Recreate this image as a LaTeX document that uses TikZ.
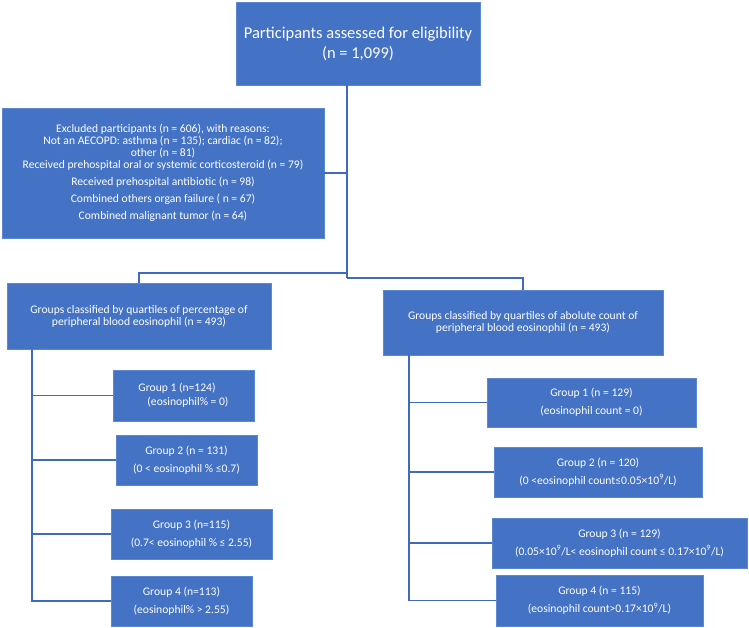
\documentclass[tikz,border=0pt]{standalone}
\usepackage{fontspec}
\setmainfont{Carlito}
\usetikzlibrary{calc}
\definecolor{BoxClr}{rgb}{0.267,0.447,0.769}
\definecolor{EdgeClr}{rgb}{0.36,0.53,0.82}
\definecolor{LineClr}{rgb}{0.25,0.42,0.74}

\begin{document}
\begin{tikzpicture}[x=1pt,y=-1pt,
  box/.style={fill=BoxClr,draw=EdgeClr,line width=0.6pt,text=white,align=center,
    inner sep=0pt,font=\fontsize{11.6}{12}\selectfont},
  grp/.style={box,font=\fontsize{11.6}{18}\selectfont},
  link/.style={draw=LineClr,line width=1.4pt}]
\useasboundingbox (0,0) rectangle (749,628);

% main boxes
\node[box,minimum width=244pt,minimum height=83pt,font=\fontsize{16.5}{20}\selectfont]
  (assess) at (358,43.5) {Participants assessed for eligibility\\(n = 1,099)};
\node[box,minimum width=322pt,minimum height=130pt] (excl) at (163,173)
  {Excluded participants (n = 606), with reasons:\\
   Not an AECOPD: asthma (n = 135); cardiac (n = 82);\\
   other (n = 81)\\
   Received prehospital oral or systemic corticosteroid (n = 79)\\[5pt]
   Received prehospital antibiotic (n = 98)\\[5pt]
   Combined others organ failure ( n = 67)\\[5pt]
   Combined malignant tumor (n = 64)};
\node[box,minimum width=264pt,minimum height=66pt] (pctHead) at (139,316)
  {Groups classified by quartiles of percentage of\\peripheral blood eosinophil (n = 493)};
\node[box,minimum width=280pt,minimum height=65pt] (cntHead) at (523,322.5)
  {Groups classified by quartiles of abolute count of\\peripheral blood eosinophil (n = 493)};

% percentage groups
\node[grp,minimum width=141pt,minimum height=51pt,align=left,font=\fontsize{11.6}{14}\selectfont]
  (pctA) at (183.5,395.5) {Group 1 (n=124)\\\hspace*{9pt}(eosinophil\% = 0)};
\node[grp,minimum width=141pt,minimum height=50pt] (pctB) at (186.5,460)
  {Group 2 (n = 131)\\(0 < eosinophil \% ≤0.7)};
\node[grp,minimum width=161pt,minimum height=50pt] (pctC) at (191.5,534)
  {Group 3 (n=115)\\(0.7< eosinophil \% ≤ 2.55)};
\node[grp,minimum width=141pt,minimum height=50pt] (pctD) at (181.5,601)
  {Group 4 (n=113)\\(eosinophil\% > 2.55)};

% count groups
\node[grp,minimum width=209pt,minimum height=49pt] (cntA) at (591.5,402.5)
  {Group 1 (n = 129)\\(eosinophil count = 0)};
\node[grp,minimum width=208pt,minimum height=50pt] (cntB) at (598,472)
  {Group 2 (n = 120)\\(0 <eosinophil count≤0.05×10\textsuperscript{9}/L)};
\node[grp,minimum width=255pt,minimum height=50pt] (cntC) at (619.5,543)
  {Group 3 (n = 129)\\(0.05×10\textsuperscript{9}/L< eosinophil count ≤ 0.17×10\textsuperscript{9}/L)};
\node[grp,minimum width=207pt,minimum height=51pt] (cntD) at (599.5,600.5)
  {Group 4 (n = 115)\\(eosinophil count>0.17×10\textsuperscript{9}/L)};

\coordinate (trunk) at (347,278);
\coordinate (splitL) at (347,273);
\coordinate (spineL) at (32,0);
\coordinate (spineR) at (409,0);

% connectors
\draw[link] (assess.south -| trunk) -- (trunk);
\draw[link] (excl.east) -- (excl.east -| trunk);
\draw[link] (splitL) -| (pctHead.north);
\draw[link] (trunk) -| (cntHead.north);

\draw[link] (pctHead.south -| spineL) |- (pctD.west);
\draw[link] (spineL |- pctA.west) -- (pctA.west);
\draw[link] (spineL |- pctB.west) -- (pctB.west);
\draw[link] (spineL |- pctC.west) -- (pctC.west);

\draw[link] (cntHead.south -| spineR) |- (cntD.west);
\draw[link] (spineR |- cntA.west) -- (cntA.west);
\draw[link] (spineR |- cntB.west) -- (cntB.west);
\draw[link] (spineR |- cntC.west) -- (cntC.west);

\end{tikzpicture}
\end{document}
